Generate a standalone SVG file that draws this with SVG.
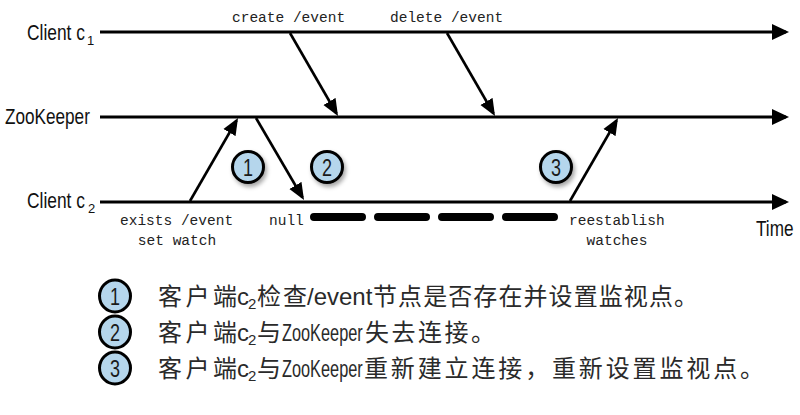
<svg xmlns="http://www.w3.org/2000/svg" width="800" height="415" viewBox="0 0 800 415">
<style>
.life{stroke:#000;stroke-width:3;fill:none}
.msg{stroke:#000;stroke-width:2.6;fill:none}
.name{font-family:"Liberation Sans","DejaVu Sans",sans-serif;font-size:22px;fill:#111}
.sub{font-family:"Liberation Sans","DejaVu Sans",sans-serif;font-size:13px;fill:#111}
.code{font-family:"Liberation Mono","DejaVu Sans Mono",monospace;font-size:14.5px;fill:#222}
.badge{fill:#b5d6ec;stroke:#000;stroke-width:3}
.num{font-family:"Liberation Sans","DejaVu Sans",sans-serif;font-size:24px;fill:#1a1a1a;text-anchor:middle}
.leg{font-family:"Noto Sans CJK SC","Liberation Sans",sans-serif;font-size:24px;fill:#2a2a2a}
.lat{font-family:"Liberation Sans","DejaVu Sans",sans-serif;font-size:24px;fill:#2a2a2a}
.s2{font-family:"Liberation Sans","DejaVu Sans",sans-serif;font-size:15px}
</style>
<defs>
<marker id="ah" markerUnits="userSpaceOnUse" markerWidth="18" markerHeight="16" viewBox="0 0 18 16" refX="14" refY="8" orient="auto">
<path d="M0,0 L17,8 L0,16 z" fill="#000"/>
</marker>
<marker id="ahs" markerUnits="userSpaceOnUse" markerWidth="18" markerHeight="16" viewBox="0 0 18 16" refX="14" refY="8" orient="auto">
<path d="M0,1 L17,8 L0,15 z" fill="#000"/>
</marker>
<filter id="sh" x="-50%" y="-50%" width="200%" height="200%">
<feDropShadow dx="2" dy="3" stdDeviation="2.2" flood-color="#000" flood-opacity="0.35"/>
</filter>
</defs>
<rect width="800" height="415" fill="#fff"/>

<g id="client-c1">
<line class="life" x1="100" y1="32" x2="786" y2="32" marker-end="url(#ah)"/>
<text class="name" transform="translate(27,40) scale(0.79,1)">Client c</text>
<text class="sub" x="87" y="45">1</text>
</g>
<g id="zookeeper">
<line class="life" x1="100" y1="117" x2="786" y2="117" marker-end="url(#ah)"/>
<text class="name" transform="translate(5,124) scale(0.78,1)">ZooKeeper</text>
</g>
<g id="client-c2">
<line class="life" x1="100" y1="202" x2="786" y2="202" marker-end="url(#ah)"/>
<text class="name" transform="translate(27,208) scale(0.79,1)">Client c</text>
<text class="sub" x="88" y="213">2</text>
<text class="name" transform="translate(756,236) scale(0.78,1)">Time</text>
</g>

<g id="connectors">
<line class="msg" x1="290" y1="33" x2="336.5" y2="113.5" marker-end="url(#ahs)"/>
<line class="msg" x1="447" y1="33" x2="493.5" y2="113.5" marker-end="url(#ahs)"/>
<line class="msg" x1="190" y1="201" x2="236.5" y2="120.5" marker-end="url(#ahs)"/>
<line class="msg" x1="256" y1="118" x2="302.5" y2="197.5" marker-end="url(#ahs)"/>
<line class="msg" x1="570" y1="201" x2="616.5" y2="120.5" marker-end="url(#ahs)"/>
<line x1="314" y1="217" x2="554" y2="217" stroke="#000" stroke-width="8" stroke-linecap="round" stroke-dasharray="48 16"/>
</g>

<g id="labels">
<text class="code" x="232" y="22">create /event</text>
<text class="code" x="390" y="22">delete /event</text>
<text class="code" x="120" y="225">exists /event</text>
<text class="code" x="177" y="245" text-anchor="middle">set watch</text>
<text class="code" x="269" y="225">null</text>
<text class="code" x="569" y="225">reestablish</text>
<text class="code" x="617" y="245" text-anchor="middle">watches</text>
</g>

<g id="badge-1"><circle class="badge" cx="248" cy="167" r="15.5" filter="url(#sh)"/><text class="num" transform="translate(248,175.5) scale(0.75,1)">1</text></g>
<g id="badge-2"><circle class="badge" cx="327" cy="167" r="15.5" filter="url(#sh)"/><text class="num" transform="translate(327,175.5) scale(0.75,1)">2</text></g>
<g id="badge-3"><circle class="badge" cx="556" cy="167" r="15.5" filter="url(#sh)"/><text class="num" transform="translate(556,175.5) scale(0.75,1)">3</text></g>

<g id="legend">
<g id="legend-1">
<ellipse class="badge" cx="115" cy="296" rx="15.5" ry="16"/><text class="num" transform="translate(115,304.5) scale(0.75,1)">1</text>
<text class="leg" y="305"><tspan x="158" textLength="79" lengthAdjust="spacing">客户端</tspan><tspan class="lat" x="237">c</tspan><tspan class="s2" x="248" dy="4">2</tspan><tspan x="257" dy="-4" textLength="50" lengthAdjust="spacing">检查</tspan><tspan class="lat" x="307">/event</tspan><tspan x="373" textLength="325" lengthAdjust="spacing">节点是否存在并设置监视点。</tspan></text>
</g>
<g id="legend-2">
<ellipse class="badge" cx="115" cy="332" rx="15.5" ry="16"/><text class="num" transform="translate(115,340.5) scale(0.75,1)">2</text>
<text class="leg" y="341"><tspan x="158" textLength="79" lengthAdjust="spacing">客户端</tspan><tspan class="lat" x="237">c</tspan><tspan class="s2" x="248" dy="4">2</tspan><tspan x="257" dy="-4">与</tspan></text>
<text class="lat" transform="translate(282,341) scale(0.68,1)">ZooKeeper</text>
<text class="leg" x="365" y="341" textLength="130" lengthAdjust="spacing">失去连接。</text>
</g>
<g id="legend-3">
<ellipse class="badge" cx="115" cy="368" rx="15.5" ry="16"/><text class="num" transform="translate(115,376.5) scale(0.75,1)">3</text>
<text class="leg" y="377"><tspan x="158" textLength="79" lengthAdjust="spacing">客户端</tspan><tspan class="lat" x="237">c</tspan><tspan class="s2" x="248" dy="4">2</tspan><tspan x="257" dy="-4">与</tspan></text>
<text class="lat" transform="translate(282,377) scale(0.68,1)">ZooKeeper</text>
<text class="leg" x="364" y="377" textLength="400" lengthAdjust="spacing">重新建立连接，重新设置监视点。</text>
</g>
</g>
</svg>
